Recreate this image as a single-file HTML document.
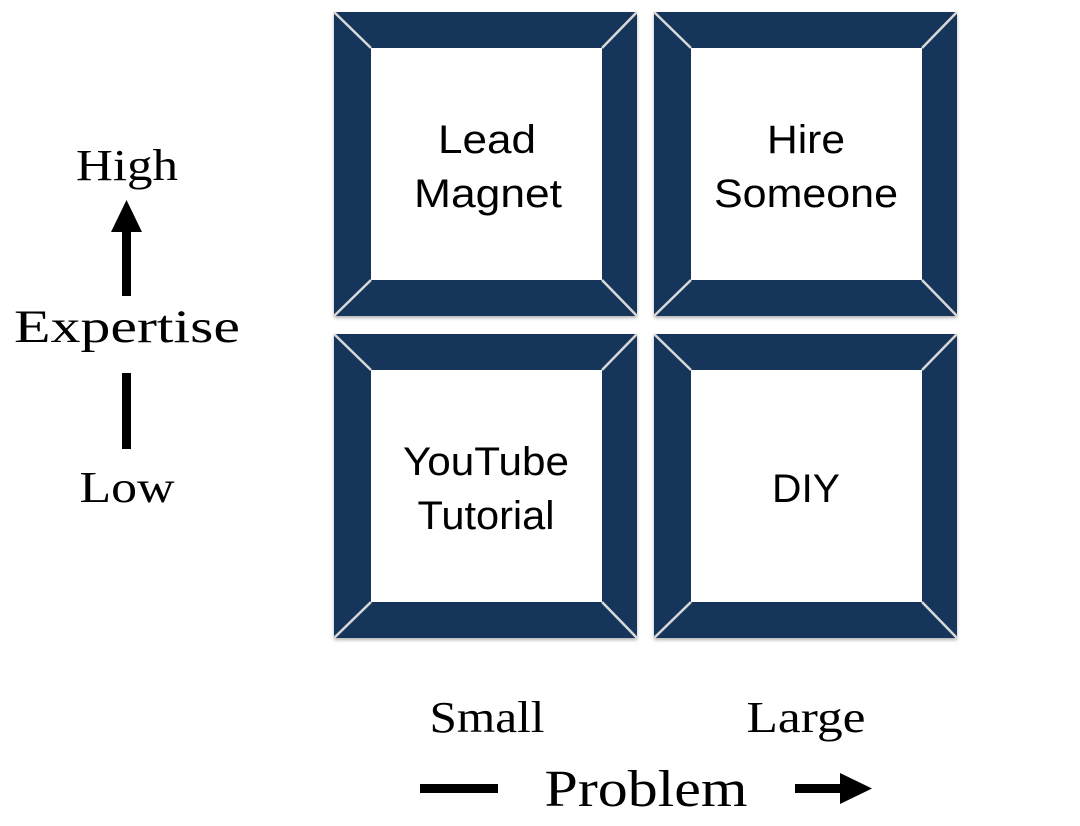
<!DOCTYPE html>
<html><head><meta charset="utf-8"><style>
html,body{margin:0;padding:0;background:#fff;}
svg{display:block}
.s{font-family:"Liberation Sans",sans-serif;font-size:40px;fill:#000;text-anchor:middle}
.r{font-family:"Liberation Serif",serif;fill:#000;text-anchor:middle}
</style></head><body>
<svg width="1080" height="826" viewBox="0 0 1080 826" xmlns="http://www.w3.org/2000/svg">
<defs>
<filter id="sh" x="-5%" y="-5%" width="110%" height="110%"><feDropShadow dx="0" dy="2" stdDeviation="1.5" flood-color="#000" flood-opacity="0.3"/></filter>
<g id="fr">
<rect x="0" y="0" width="303" height="304" fill="#15355a" filter="url(#sh)"/>
<rect x="37" y="36" width="231" height="232" fill="#fff"/>
<g stroke="#d8d8d8" stroke-width="2.5">
<line x1="0" y1="0" x2="37" y2="36"/>
<line x1="303" y1="0" x2="268" y2="36"/>
<line x1="0" y1="304" x2="37" y2="268"/>
<line x1="303" y1="304" x2="268" y2="268"/>
</g>
</g>
</defs>
<use href="#fr" x="334" y="12"/>
<use href="#fr" x="654" y="12"/>
<use href="#fr" x="334" y="334"/>
<use href="#fr" x="654" y="334"/>
<text class="s" x="487" y="153" textLength="98" lengthAdjust="spacingAndGlyphs">Lead</text>
<text class="s" x="488" y="207" textLength="148" lengthAdjust="spacingAndGlyphs">Magnet</text>
<text class="s" x="806" y="153" textLength="78" lengthAdjust="spacingAndGlyphs">Hire</text>
<text class="s" x="806" y="207" textLength="184" lengthAdjust="spacingAndGlyphs">Someone</text>
<text class="s" x="486" y="475" textLength="166" lengthAdjust="spacingAndGlyphs">YouTube</text>
<text class="s" x="486" y="529" textLength="137" lengthAdjust="spacingAndGlyphs">Tutorial</text>
<text class="s" x="806" y="502" textLength="68" lengthAdjust="spacingAndGlyphs">DIY</text>
<text class="r" x="127" y="180" font-size="44" textLength="102" lengthAdjust="spacingAndGlyphs">High</text>
<text class="r" x="127" y="342" font-size="47" textLength="226" lengthAdjust="spacingAndGlyphs">Expertise</text>
<text class="r" x="127" y="502" font-size="44" textLength="95" lengthAdjust="spacingAndGlyphs">Low</text>
<rect x="122" y="228" width="9" height="68" fill="#000"/>
<polygon points="126.5,200 111,232 142,232" fill="#000"/>
<rect x="122" y="373" width="9" height="76" fill="#000"/>
<text class="r" x="487" y="732" font-size="44" textLength="115" lengthAdjust="spacingAndGlyphs">Small</text>
<text class="r" x="806" y="732" font-size="44" textLength="119" lengthAdjust="spacingAndGlyphs">Large</text>
<text class="r" x="646" y="806" font-size="52" textLength="203" lengthAdjust="spacingAndGlyphs">Problem</text>
<rect x="420" y="784" width="78" height="9" fill="#000"/>
<rect x="795" y="784" width="52" height="9" fill="#000"/>
<polygon points="872,788.5 840,773 840,804" fill="#000"/>
</svg>
</body></html>
